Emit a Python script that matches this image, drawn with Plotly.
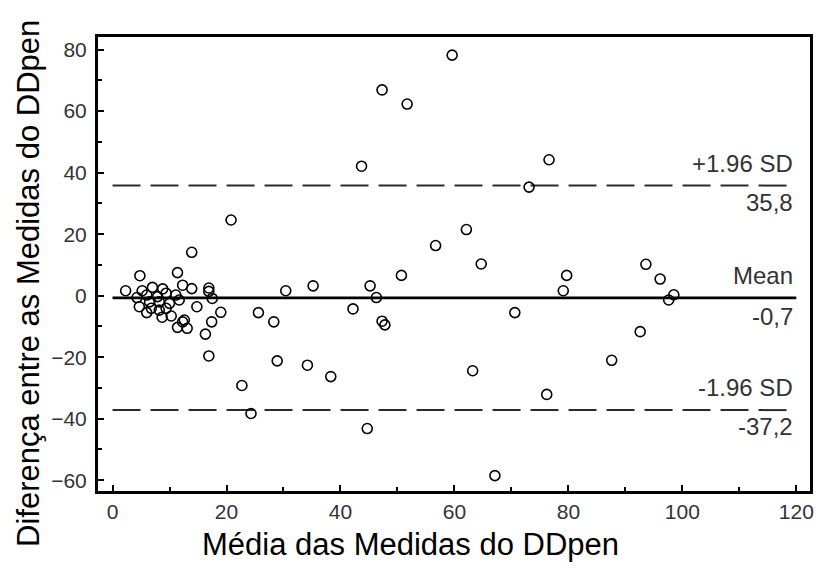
import plotly.graph_objects as go

# Bland-Altman data: mean of the two measurements (x) and their difference (y)
mean_x = [13.9, 4.8, 11.4, 2.3, 5.2, 7.0, 8.8, 12.3, 13.9, 16.9, 16.9, 17.5, 4.3, 6.0, 7.9, 9.4,
          11.1, 11.7, 4.7, 6.5, 6.8, 8.2, 10.0, 6.0, 8.2, 9.4, 8.7, 10.3, 14.8, 19.0, 17.4, 12.6,
          12.3, 13.1, 11.4, 16.3, 16.9,
          20.8, 25.6, 28.3, 30.4, 35.2, 28.9, 34.2, 38.3, 22.7, 24.3, 42.2, 43.7, 44.7, 45.2,
          46.3, 47.3, 47.8, 47.3, 51.7, 50.7, 56.7, 59.6, 62.1, 63.2, 64.7, 67.1, 70.6, 73.1,
          76.6, 76.2, 79.1, 79.7, 87.6, 92.6, 93.6, 96.1, 97.6, 98.5]
diff_y = [14.1, 6.5, 7.5, 1.6, 1.6, 2.7, 2.2, 3.4, 2.3, 2.5, 1.4, -0.9, -0.6, 0.2, -0.3, 0.8,
          0.2, -1.4, -3.6, -2.0, -4.1, -2.0, -2.5, -5.5, -4.7, -4.1, -7.0, -6.6, -3.6, -5.4, -8.5, -7.9,
          -8.5, -10.6, -10.3, -12.5, -19.6,
          24.6, -5.5, -8.5, 1.6, 3.2, -21.2, -22.6, -26.3, -29.2, -38.3, -4.3, 42.1, -43.2, 3.2,
          -0.6, -8.3, -9.5, 66.9, 62.3, 6.6, 16.3, 78.2, 21.5, -24.4, 10.3, -58.5, -5.5, 35.3,
          44.2, -32.1, 1.6, 6.6, -21.0, -11.7, 10.2, 5.4, -1.4, 0.3]

mean_diff = -0.7
upper_loa = 35.8
lower_loa = -37.2
line_x = [0, 120]

x_ticks = [0, 20, 40, 60, 80, 100, 120]
y_ticks = [-60, -40, -20, 0, 20, 40, 60, 80]

FONT = "Liberation Sans, Arial, sans-serif"

fig = go.Figure()

fig.add_trace(go.Scatter(x=line_x, y=[upper_loa] * 2, mode="lines",
                         line=dict(color="#2a2a2a", width=2, dash="28px,10px"),
                         hoverinfo="skip", showlegend=False))
fig.add_trace(go.Scatter(x=line_x, y=[lower_loa] * 2, mode="lines",
                         line=dict(color="#2a2a2a", width=2, dash="28px,10px"),
                         hoverinfo="skip", showlegend=False))
fig.add_trace(go.Scatter(x=line_x, y=[mean_diff] * 2, mode="lines",
                         line=dict(color="black", width=2.6),
                         hoverinfo="skip", showlegend=False))
fig.add_trace(go.Scatter(x=mean_x, y=diff_y, mode="markers",
                         marker=dict(symbol="circle-open", size=10, color="black",
                                     line=dict(width=1.6, color="black")),
                         showlegend=False))

ann_font = dict(family=FONT, size=24, color="#333333")
labels = [
    ("+1.96 SD", upper_loa, "bottom", 7),
    (f"{upper_loa:.1f}".replace(".", ","), upper_loa, "top", -1),
    ("Mean", mean_diff, "bottom", 7),
    (f"{mean_diff:.1f}".replace(".", ","), mean_diff, "top", -3),
    ("-1.96 SD", lower_loa, "bottom", 7),
    (f"{lower_loa:.1f}".replace(".", ","), lower_loa, "top", -1),
]
for txt, yv, anchor, shift in labels:
    fig.add_annotation(x=119.8, y=yv, xref="x", yref="y", text=txt, showarrow=False,
                       xanchor="right", yanchor=anchor, yshift=shift, font=ann_font)

# axis titles (centred on the whole image, as in the reference)
fig.add_annotation(x=(412 - 98) / 716, y=0, xref="paper", yref="paper",
                   text="Média das Medidas do DDpen",
                   showarrow=False, xanchor="center", yanchor="middle", yshift=-53,
                   font=dict(family=FONT, size=31, color="black"))
fig.add_annotation(x=0, y=(491 - 284) / 454, xref="paper", yref="paper",
                   text="Diferença entre as Medidas do DDpen", textangle=-90,
                   showarrow=False, xanchor="center", yanchor="middle", xshift=-70,
                   font=dict(family=FONT, size=31, color="black"))

axis_common = dict(showline=True, linecolor="black", linewidth=3, mirror=True,
                   ticks="inside", ticklen=6, tickwidth=2, tickcolor="black",
                   showgrid=False, zeroline=False,
                   tickfont=dict(family=FONT, size=21, color="#333333"))

fig.update_xaxes(range=[-2.55, 122.4], tickvals=x_ticks,
                 minor=dict(ticks="inside", ticklen=4, tickwidth=1.5, tickcolor="black", dtick=10),
                 **axis_common)
fig.update_yaxes(range=[-63.5, 84.1], tickvals=y_ticks,
                 minor=dict(ticks="inside", ticklen=4, tickwidth=1.5, tickcolor="black", dtick=10),
                 ticklabelstandoff=4,
                 **axis_common)

fig.update_layout(width=825, height=580, margin=dict(l=98, r=11, t=37, b=89),
                  plot_bgcolor="white", paper_bgcolor="white", showlegend=False)

fig.write_html("out.html")
